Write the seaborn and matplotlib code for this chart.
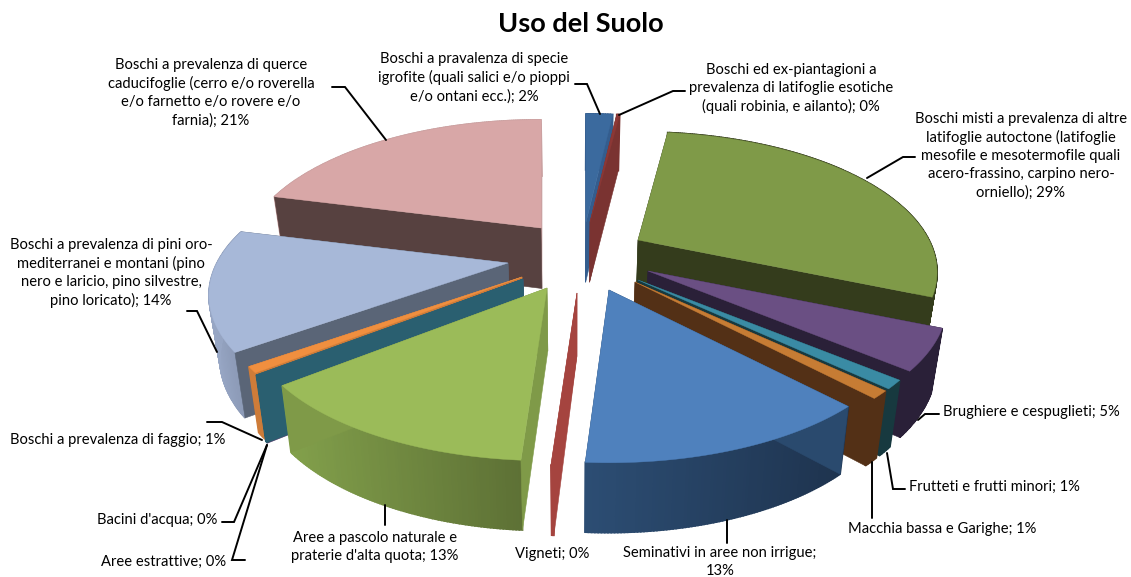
#!/usr/bin/env python
import numpy as np
import seaborn as sns
import matplotlib.pyplot as plt

# Data (percent, the labels show them rounded)
categories = [
    "Boschi a pravalenza di specie\nigrofite (quali salici e/o pioppi\ne/o ontani ecc.)",
    "Boschi ed ex-piantagioni a\nprevalenza di latifoglie esotiche\n(quali robinia, e ailanto)",
    "Boschi misti a prevalenza di altre\nlatifoglie autoctone (latifoglie\nmesofile e mesotermofile quali\nacero-frassino, carpino nero-\norniello)",
    "Brughiere e cespuglieti",
    "Frutteti e frutti minori",
    "Macchia bassa e Garighe",
    "Seminativi in aree non irrigue;\n",
    "Vigneti",
    "Aree a pascolo naturale e\npraterie d'alta quota",
    "Aree estrattive",
    "Bacini d'acqua",
    "Boschi a prevalenza di faggio",
    "Boschi a prevalenza di pini oro-\nmediterranei e montani (pino\nnero e laricio, pino silvestre,\npino loricato)",
    "Boschi a prevalenza di querce\ncaducifoglie (cerro e/o roverella\ne/o farnetto e/o rovere e/o\nfarnia)",
]
values = [1.8, 0.2, 29.4, 4.7, 1.0, 0.9, 13.0, 0.1, 13.1, 0.05, 0.15, 0.7, 13.9, 21.0]

# Pie layout: centre of the whole pie and how far each slice is pulled out
CENTER = (575, 255)
EXPLODE_X = [11, 15, 63, 73, 63, 60, 34, 2, -28, -52, -52, -53, -67, -34]
EXPLODE_Y = [-33, -33, -15, 16, 25, 27, 35, 38, 33, 24, 24, 22, 8, -27]
RX, RY, PERSP = 291, 133, 0.23

# Colours per slice
top_colors = ["#3B6A9E", "#8C3836", "#7F9A48", "#6A4F83", "#3A8BA4", "#C67C34", "#4F81BD",
              "#A5443F", "#9BBB59", "#8064A2", "#2B5F70", "#F08F3F", "#A7B8D8", "#D8A7A7"]
start_side = ["#345D8E", "#7A3331", "#343C1C", "#2A2038", "#17393F", "#533016", "#2A4A6E",
              "#A5443F", "#7F9A48", "#5A4673", "#2A5F70", "#CE7C39", "#5A6577", "#574140"]
end_side = ["#345D8E", "#7A3331", "#343C1C", "#2A2038", "#17393F", "#533016", "#2C4D73",
            "#A5443F", "#7F9A48", "#5A4673", "#2A5F70", "#CE7C39", "#5A6577", "#C9A0A0"]
arc_left = ["#345D8E", "#7A3331", "#343C1C", "#2A2038", "#17393F", "#533016", "#2C4D73",
            "#A5443F", "#82A04B", "#5A4673", "#2A5F70", "#CE7C39", "#97A6C4", "#C9A0A0"]
arc_right = ["#345D8E", "#7A3331", "#343C1C", "#2A2038", "#17393F", "#533016", "#1E334E",
             "#A5443F", "#5D7035", "#5A4673", "#2A5F70", "#CE7C39", "#8997B3", "#C9A0A0"]

# Painter's order, back slices first
draw_order = [13, 0, 1, 2, 3, 4, 5, 12, 11, 9, 10, 8, 7, 6]

# Label text: x, y of the first line, alignment
label_pos = [
    (474, 57, "center"), (791, 68, "center"), (1021, 117, "center"), (943, 410, "left"),
    (909, 485, "left"), (848, 527, "left"), (720, 551, "center"), (515, 552, "left"),
    (375, 536, "center"), (101, 560, "left"), (97, 518, "left"), (10, 438, "left"),
    (111, 243, "center"), (211, 63, "center"),
]
shown = [2, 0, 29, 5, 1, 1, 13, 0, 13, 0, 0, 1, 14, 21]

leaders = [
    [(332, 87), (345, 87), (386, 140)],
    [(575, 84), (587, 84), (600, 114)],
    [(685, 91), (673, 91), (619, 115)],
    [(915, 157), (903, 157), (867, 178)],
    [(939, 414), (925, 414), (918, 420)],
    [(905, 489), (893, 489), (887, 453)],
    [(872, 462), (872, 518)],
    [(727, 520), (727, 543)],
    [(385, 505), (385, 525)],
    [(245, 560), (232, 560), (267, 445)],
    [(222, 522), (234, 522), (267, 445)],
    [(207, 422), (222, 422), (262, 440)],
    [(187, 311), (197, 311), (217, 352)],
]

sns.set_theme(style="white")
plt.rcParams["font.family"] = ["Lato", "DejaVu Sans"]

fig = plt.figure(figsize=(11.31, 5.77), dpi=100)
ax = fig.add_axes([0, 0, 1, 1])
ax.set_xlim(0, 1131)
ax.set_ylim(577, 0)
ax.set_xticks([])
ax.set_yticks([])
sns.despine(ax=ax, left=True, bottom=True)


def rim(theta, ax_x, ax_y):
    s = 1 / (1 + PERSP * np.cos(theta))
    return ax_x + RX * np.sin(theta) * s, ax_y - RY * np.cos(theta) * s


def drop(x, y):
    # wall foot, a bit taller and pulled inwards towards the viewer
    h = 56 + 0.04 * (np.asarray(y) - 115)
    return x - 0.03 * (np.asarray(x) - CENTER[0]), y + h


def quad(x0, y0, x1, y1, color, lw=0.4):
    bx0, by0 = drop(x0, y0)
    bx1, by1 = drop(x1, y1)
    ax.fill([x0, x1, bx1, bx0], [y0, y1, by1, by0], color=color, lw=lw, ec=color)


edges = np.deg2rad(np.concatenate([[0], np.cumsum(values)]) / sum(values) * 360)

for i in draw_order:
    a0, a1 = edges[i], edges[i + 1]
    apex_x = CENTER[0] + EXPLODE_X[i]
    apex_y = CENTER[1] + EXPLODE_Y[i]
    th = np.linspace(a0, a1, max(3, int(np.degrees(a1 - a0)) * 2))
    xs, ys = rim(th, apex_x, apex_y)

    # outer wall in strips, the shade runs left to right on screen
    shades = sns.blend_palette([arc_left[i], arc_right[i]], 64)
    span = max(xs.max() - xs.min(), 1)
    for k in range(len(th) - 1):
        c = shades[int(63 * ((xs[k] + xs[k + 1]) / 2 - xs.min()) / span)]
        quad(xs[k], ys[k], xs[k + 1], ys[k + 1], c, lw=1.2)

    # cut sides go over the outer wall
    quad(apex_x, apex_y, xs[-1], ys[-1], end_side[i])
    quad(apex_x, apex_y, xs[0], ys[0], start_side[i])

    ax.fill(np.r_[apex_x, xs], np.r_[apex_y, ys], color=top_colors[i], lw=0.3, ec=top_colors[i])

for pts in leaders:
    px, py = zip(*pts)
    ax.plot(px, py, color="black", lw=1.4, solid_joinstyle="miter")

for name, pct, (tx, ty, ha) in zip(categories, shown, label_pos):
    if name.endswith("\n"):
        text = name + f"{pct}%"
    else:
        text = name + f"; {pct}%"
    ax.text(tx, ty - 5, text, ha=ha, va="top", fontsize=10.6, color="black", linespacing=1.35,
            multialignment="center")

ax.text(581, 24, "Uso del Suolo", ha="center", va="center", fontsize=19.5, fontweight="bold", color="black")

fig.savefig("out.png", dpi=100)
